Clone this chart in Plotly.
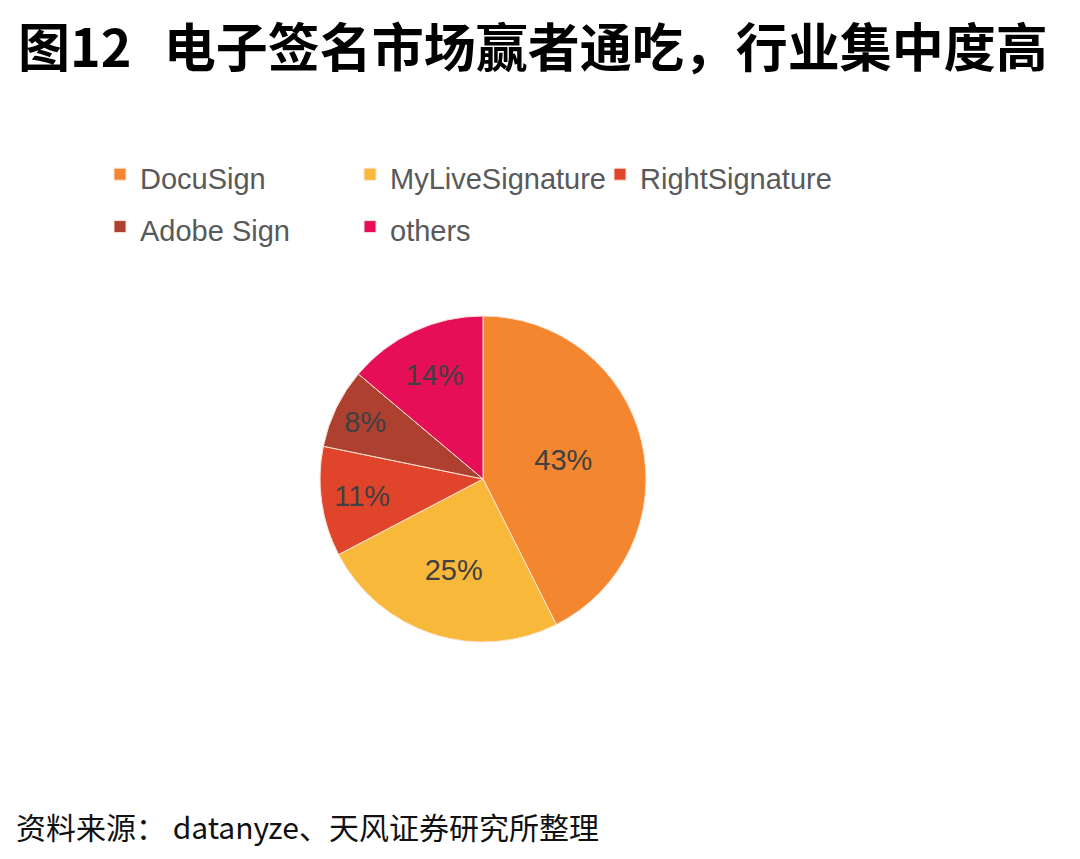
import plotly.graph_objects as go

# market share of e-signature vendors (datanyze)
labels = ["DocuSign", "MyLiveSignature", "RightSignature", "Adobe Sign", "others"]
shares = [43, 25, 11, 8, 14]
slice_colors = ["#F4862F", "#F8B93A", "#E0442A", "#AE402F", "#E60E57"]

title_text = "图12  \u2006电子签名市场赢者通吃，行业集中度高"
source_text = "资料来源： datanyze、天风证券研究所整理"

# the page puts the plot 8px in from the top left corner
OFF = 8
W, H = 1080 - OFF, 859 - OFF
# right margin only there to make the legend wrap after 3 entries
MR = 100
PW = W - MR


def paper_x(sx):
    return (sx - OFF) / PW


def cont_x(sx):
    return (sx - OFF) / W


def px_y(sy):
    return 1 - (sy - OFF) / H


# pie centre and radius, screen px
cx, cy, r = 483, 479, 163

# legend rows are 52px apart: big legend font for the row height,
# the visible text is set smaller through a span
legend_labels = ['<span style="font-size:29px">' + s + "</span>" for s in labels]

trace = go.Pie(
    labels=legend_labels,
    values=shares,
    text=[str(v) + "%" for v in shares],
    textinfo="text",
    textposition="inside",
    insidetextorientation="horizontal",
    sort=False,
    direction="clockwise",
    rotation=0,
    marker={"colors": slice_colors, "line": {"color": "#FBE3D6", "width": 1}},
    textfont={"family": "Liberation Sans, Arial", "size": 29, "color": "#404040"},
    domain={
        "x": [paper_x(cx - r), paper_x(cx + r)],
        "y": [px_y(cy + r), px_y(cy - r)],
    },
    hovertext=labels,
    hoverinfo="text+percent",
)

layout = go.Layout(
    width=W,
    height=H,
    margin={"l": 0, "r": MR, "t": 0, "b": 0, "autoexpand": False},
    paper_bgcolor="white",
    plot_bgcolor="white",
    showlegend=True,
    legend={
        "orientation": "h",
        "xref": "container",
        "yref": "container",
        "x": cont_x(100),
        "xanchor": "left",
        "y": px_y(143),
        "yanchor": "top",
        "entrywidth": 205,
        "font": {"family": "Liberation Sans, Arial", "size": 38, "color": "#595959"},
        "bgcolor": "rgba(0,0,0,0)",
    },
    annotations=[
        dict(
            text="<b>" + title_text + "</b>",
            x=paper_x(16), y=px_y(44),
            xref="paper", yref="paper",
            xanchor="left", yanchor="middle",
            showarrow=False,
            font={"family": "Noto Sans CJK SC", "size": 52, "color": "#000000"},
        ),
        dict(
            text=source_text,
            x=paper_x(14), y=px_y(826),
            xref="paper", yref="paper",
            xanchor="left", yanchor="middle",
            showarrow=False,
            font={"family": "Noto Sans CJK SC", "size": 30, "color": "#111111"},
        ),
    ],
)

fig = go.Figure(data=[trace], layout=layout)
fig.write_html("out.html")
